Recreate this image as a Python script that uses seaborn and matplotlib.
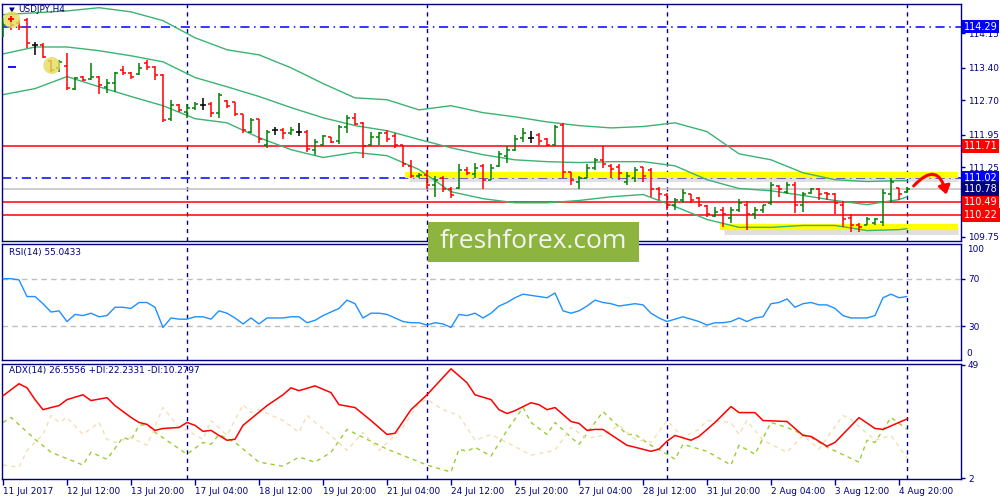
import numpy as np
import pandas as pd
import matplotlib.pyplot as plt
from matplotlib.patches import Rectangle, FancyArrowPatch
import seaborn as sns

# USDJPY H4 bars, 11 Jul 2017 04:00 .. 4 Aug 20:00
opens = [114.22, 114.44, 114.37, 114.44, 113.90, 113.90, 113.55, 113.40, 113.44, 112.95,
         113.21, 113.16, 113.21, 112.99, 113.08, 113.36, 113.29, 113.27, 113.51, 113.42,
         113.25, 112.30, 112.60, 112.45, 112.54, 112.60, 112.62, 112.43, 112.69, 112.65,
         112.41, 112.02, 112.30, 111.74, 112.06, 112.06, 112.00, 112.02, 112.02, 111.63,
         111.72, 111.91, 111.82, 112.13, 112.32, 112.21, 111.72, 111.91, 112.00, 111.93,
         111.72, 111.28, 111.05, 111.09, 110.87, 111.02, 110.77, 110.81, 111.20, 111.11,
         111.28, 110.98, 111.28, 111.50, 111.63, 111.89, 111.89, 111.95, 111.85, 111.74,
         112.17, 111.15, 110.94, 111.02, 111.24, 111.41, 111.28, 111.26, 110.94, 111.02,
         111.26, 111.20, 110.77, 110.64, 110.44, 110.55, 110.66, 110.59, 110.42, 110.20,
         110.33, 110.16, 110.33, 110.44, 110.23, 110.33, 110.48, 110.85, 110.72, 110.87,
         110.44, 110.70, 110.77, 110.70, 110.66, 110.44, 110.16, 110.01, 110.01, 110.05,
         110.07, 110.66, 110.81, 110.72]
highs = [114.48, 114.48, 114.44, 114.48, 113.96, 113.94, 113.57, 113.57, 113.73, 113.21,
         113.23, 113.51, 113.23, 113.16, 113.31, 113.44, 113.31, 113.51, 113.57, 113.44,
         113.27, 112.71, 112.62, 112.62, 112.67, 112.75, 112.65, 112.86, 112.71, 112.65,
         112.41, 112.32, 112.30, 112.06, 112.13, 112.10, 112.13, 112.21, 112.06, 111.85,
         111.95, 111.91, 112.17, 112.39, 112.43, 112.23, 112.02, 112.02, 112.06, 111.98,
         111.74, 111.41, 111.13, 111.20, 111.05, 111.05, 110.83, 111.31, 111.26, 111.35,
         111.31, 111.31, 111.59, 111.70, 111.95, 112.10, 112.04, 112.00, 111.89, 112.17,
         112.21, 111.15, 111.05, 111.31, 111.46, 111.70, 111.31, 111.31, 111.15, 111.26,
         111.26, 111.24, 110.83, 110.70, 110.59, 110.77, 110.66, 110.61, 110.44, 110.40,
         110.40, 110.38, 110.57, 110.51, 110.38, 110.44, 110.92, 110.87, 110.94, 110.92,
         110.72, 110.81, 110.81, 110.72, 110.70, 110.51, 110.23, 110.05, 110.18, 110.16,
         110.77, 111.02, 110.81, 110.83]
lows = [114.07, 114.22, 114.22, 113.83, 113.68, 113.62, 113.31, 113.31, 112.93, 112.93,
        113.12, 113.14, 112.84, 112.86, 112.88, 113.25, 113.16, 113.25, 113.36, 113.14,
        112.23, 112.26, 112.45, 112.32, 112.49, 112.49, 112.34, 112.32, 112.54, 112.36,
        111.98, 112.00, 111.78, 111.67, 111.95, 111.85, 111.95, 111.93, 111.57, 111.52,
        111.70, 111.78, 111.76, 112.00, 112.17, 111.46, 111.70, 111.74, 111.80, 111.67,
        111.26, 111.02, 111.02, 110.77, 110.61, 110.72, 110.59, 110.77, 111.09, 111.02,
        110.77, 110.98, 111.26, 111.35, 111.59, 111.80, 111.78, 111.74, 111.70, 111.70,
        111.02, 110.87, 110.77, 111.02, 111.20, 111.24, 111.02, 110.98, 110.87, 110.92,
        110.92, 110.61, 110.55, 110.33, 110.33, 110.48, 110.48, 110.38, 110.18, 110.18,
        109.95, 110.05, 110.29, 109.90, 110.12, 110.27, 110.44, 110.61, 110.66, 110.27,
        110.29, 110.66, 110.55, 110.55, 110.23, 109.95, 109.84, 109.84, 110.01, 110.01,
        109.97, 110.48, 110.55, 110.70]
closes = [114.33, 114.33, 114.29, 113.94, 113.90, 113.64, 113.36, 113.53, 112.97, 113.19,
          113.14, 113.21, 113.03, 113.08, 113.29, 113.29, 113.21, 113.40, 113.42, 113.25,
          112.28, 112.60, 112.49, 112.54, 112.62, 112.60, 112.43, 112.82, 112.58, 112.41,
          112.06, 112.28, 111.85, 112.02, 112.06, 111.98, 112.06, 112.02, 111.65, 111.80,
          111.93, 111.80, 112.13, 112.32, 112.19, 111.70, 111.91, 111.98, 111.87, 111.72,
          111.31, 111.05, 111.09, 110.87, 110.98, 110.77, 110.64, 111.20, 111.13, 111.24,
          110.98, 111.24, 111.54, 111.63, 111.85, 112.00, 111.89, 111.82, 111.74, 112.13,
          111.15, 110.98, 111.02, 111.24, 111.41, 111.31, 111.22, 111.13, 111.05, 111.20,
          111.07, 110.77, 110.66, 110.44, 110.55, 110.70, 110.55, 110.44, 110.23, 110.29,
          110.23, 110.33, 110.48, 110.23, 110.33, 110.44, 110.87, 110.77, 110.87, 110.44,
          110.66, 110.77, 110.66, 110.66, 110.48, 110.12, 110.01, 109.95, 110.12, 110.12,
          110.70, 110.92, 110.66, 110.78]

# Bollinger bands, sampled every 4 bars
band_idx = [0, 4, 8, 12, 16, 20, 24, 28, 32, 36, 40, 44, 48, 52, 56, 60, 64, 68, 72,
            76, 80, 84, 88, 92, 96, 100, 104, 108, 112, 113]
band_upper = [114.55, 114.59, 114.63, 114.70, 114.61, 114.42, 114.05, 113.79, 113.68, 113.40,
              113.06, 112.75, 112.71, 112.49, 112.58, 112.43, 112.34, 112.23, 112.15, 112.10,
              112.13, 112.21, 112.02, 111.54, 111.41, 111.13, 110.98, 110.94, 110.96, 110.96]
band_mid = [113.70, 113.85, 113.85, 113.77, 113.66, 113.53, 113.19, 112.99, 112.78, 112.54,
            112.32, 112.15, 112.04, 111.85, 111.67, 111.52, 111.41, 111.37, 111.35, 111.37,
            111.37, 111.28, 110.98, 110.79, 110.74, 110.64, 110.53, 110.44, 110.55, 110.61]
band_lower = [112.82, 112.95, 113.21, 112.99, 112.78, 112.58, 112.30, 112.21, 111.89, 111.63,
              111.46, 111.57, 111.50, 111.20, 110.72, 110.57, 110.48, 110.48, 110.53, 110.61,
              110.66, 110.40, 110.12, 109.95, 109.95, 109.99, 109.99, 109.88, 109.90, 109.92]

rsi = [70, 70, 69, 55, 55, 49, 42, 43, 34, 40, 39, 41, 38, 39, 46, 46, 45, 50, 50, 46,
       29, 37, 36, 36, 38, 38, 36, 43, 41, 37, 32, 37, 32, 37, 37, 37, 38, 38, 33, 35,
       39, 42, 45, 52, 49, 37, 41, 41, 40, 37, 34, 33, 33, 31, 33, 32, 29, 40, 39, 41,
       37, 41, 47, 50, 54, 57, 56, 55, 54, 58, 43, 41, 43, 47, 52, 50, 49, 47, 48, 49,
       48, 41, 37, 34, 36, 38, 36, 34, 31, 33, 33, 34, 37, 34, 37, 38, 49, 50, 53, 46,
       49, 50, 48, 48, 45, 39, 37, 37, 37, 39, 54, 57, 54, 55.04]

adx_idx = [0, 2, 3, 4, 5, 6, 7, 8, 10, 11, 13, 14, 16, 17, 18, 19, 20, 22, 23, 24, 25, 26,
           27, 28, 29, 30, 33, 35, 36, 37, 39, 41, 42, 44, 46, 48, 49, 51, 53, 56, 57, 58,
           59, 61, 62, 63, 64, 66, 67, 68, 69, 71, 72, 73, 74, 75, 78, 79, 81, 82, 83, 84,
           86, 87, 89, 91, 92, 94, 95, 98, 100, 101, 103, 104, 107, 109, 110, 113]
adx_val = [36.2, 41.2, 39.5, 34.6, 30.4, 31.3, 32.1, 34.6, 36.6, 34.2, 35.4, 32.1, 27.2, 25.1,
           24.3, 21.8, 22.6, 23.0, 25.1, 23.9, 21.4, 21.8, 19.7, 17.7, 18.1, 23.9, 32.1, 36.6,
           39.5, 38.3, 40.3, 37.5, 32.5, 31.3, 25.9, 20.1, 20.6, 30.4, 36.6, 47.4, 44.5, 41.6,
           36.6, 34.6, 30.4, 28.8, 30.0, 33.3, 32.5, 30.4, 31.3, 25.5, 24.7, 21.8, 22.2, 22.2,
           15.6, 14.8, 13.1, 14.0, 17.3, 19.7, 17.7, 19.3, 25.1, 31.7, 29.2, 29.2, 25.9, 25.5,
           19.7, 19.3, 15.2, 16.8, 27.1, 22.6, 22.2, 26.56]
pdi_idx = [0, 1, 4, 6, 10, 11, 13, 15, 16, 17, 18, 19, 23, 25, 26, 27, 29, 32, 35, 37, 39,
           41, 43, 45, 48, 53, 56, 57, 58, 59, 61, 63, 65, 66, 68, 69, 71, 72, 75, 78, 79,
           81, 83, 84, 85, 88, 91, 92, 94, 96, 98, 100, 101, 103, 107, 108, 109, 111, 113]
pdi_val = [25.1, 27.2, 18.1, 12.7, 7.4, 12.7, 9.8, 18.9, 17.7, 23.9, 24.3, 21.0, 11.9, 16.8,
           16.0, 20.1, 16.8, 8.6, 6.9, 10.7, 8.6, 12.7, 22.2, 18.9, 14.0, 7.4, 4.5, 14.0, 13.1,
           14.8, 11.1, 21.8, 31.3, 25.1, 20.1, 25.1, 18.9, 16.0, 29.6, 20.1, 20.1, 15.6, 11.9,
           9.8, 16.0, 13.1, 7.4, 15.6, 11.9, 25.1, 23.0, 20.1, 18.9, 14.8, 8.6, 17.7, 16.8,
           27.2, 22.23]
mdi_idx = [0, 2, 3, 5, 6, 7, 8, 10, 12, 13, 14, 16, 18, 20, 22, 23, 25, 26, 28, 30, 31, 32,
           35, 37, 38, 41, 43, 45, 47, 50, 52, 53, 55, 57, 59, 61, 63, 66, 69, 71, 73, 75,
           77, 79, 81, 83, 85, 87, 88, 91, 92, 93, 95, 98, 100, 102, 105, 106, 109, 111, 113]
mdi_val = [7.4, 6.5, 13.5, 20.1, 28.0, 25.1, 27.2, 20.1, 25.1, 18.1, 16.8, 18.9, 15.6, 31.3,
           23.0, 21.8, 18.1, 25.9, 19.7, 32.5, 29.2, 30.4, 25.9, 21.0, 28.0, 19.7, 13.5, 21.0,
           13.5, 23.0, 33.3, 34.6, 30.4, 28.0, 17.7, 20.1, 16.8, 11.5, 13.5, 23.0, 18.5, 19.7,
           23.9, 18.1, 16.8, 25.9, 18.9, 22.2, 25.9, 25.1, 20.1, 25.9, 17.7, 12.7, 19.7, 14.0,
           28.0, 26.3, 17.7, 19.7, 10.28]

date_labels = ["11 Jul 2017", "12 Jul 12:00", "13 Jul 20:00", "17 Jul 04:00", "18 Jul 12:00",
               "19 Jul 20:00", "21 Jul 04:00", "24 Jul 12:00", "25 Jul 20:00", "27 Jul 04:00",
               "28 Jul 12:00", "31 Jul 20:00", "2 Aug 04:00", "3 Aug 12:00", "4 Aug 20:00"]
week_starts = [23, 53, 83, 113]
price_ticks = [114.15, 113.40, 112.70, 111.95, 111.25, 109.75]
# (price, line colour, line style)
levels = [(114.29, "#0000FF", (0, (6, 3, 1, 3))), (111.71, "#FF0000", "-"),
          (111.02, "#0000FF", (0, (6, 3, 1, 3))), (110.78, "#C0C0C0", "-"),
          (110.49, "#FF0000", "-"), (110.22, "#FF0000", "-")]
level_boxes = [(114.29, "#0000FF"), (111.71, "#FF0000"), (111.02, "#0000FF"),
               (110.78, "#000080"), (110.49, "#FF0000"), (110.22, "#FF0000")]

NAVY = "#000080"
FS = 6.4


def style_axes(ax):
    ax.set_xlim(-0.125, 119.75)
    ax.set_xlabel("")
    ax.set_ylabel("")
    for sp in ax.spines.values():
        sp.set_color(NAVY)
        sp.set_linewidth(1.0)
    ax.yaxis.tick_right()
    ax.tick_params(axis="y", colors=NAVY, labelcolor=NAVY, labelsize=FS, length=3,
                   width=1, direction="out", pad=2)
    for w in week_starts:
        ax.axvline(w, color=NAVY, lw=1, ls=(0, (3, 3)), zorder=1)


def main():
    sns.set_theme(style="white")
    plt.rcParams["font.family"] = ["DejaVu Sans"]

    fig = plt.figure(figsize=(10, 5), dpi=100, facecolor="white")
    ax_main = fig.add_axes([0.002, 0.519, 0.959, 0.473])
    ax_rsi = fig.add_axes([0.002, 0.28, 0.959, 0.232])
    ax_adx = fig.add_axes([0.002, 0.042, 0.959, 0.230])

    # --- price panel ---
    idx = np.arange(len(closes))
    o = np.array(opens)
    c = np.array(closes)
    cols = np.where(c > o, "#008000", np.where(c < o, "#FF0000", "#000000"))

    bands = pd.DataFrame({"bar": band_idx, "upper": band_upper,
                          "middle": band_mid, "lower": band_lower})
    for name in ["upper", "middle", "lower"]:
        sns.lineplot(data=bands, x="bar", y=name, ax=ax_main, color="#3CB371",
                     lw=1, errorbar=None, zorder=2)

    for price, col, ls in levels:
        ax_main.axhline(price, color=col, lw=1.1, ls=ls, zorder=1.5)

    # highlighted zones with a soft shadow
    for y0, x0 in [(111.08, 50.3), (109.95, 89.6)]:
        ax_main.hlines(y0 - 0.07, x0 + 0.5, 119.4, color="#808080", lw=5, alpha=0.25, zorder=1.6)
        ax_main.hlines(y0, x0, 119.4, color="#FFFF00", lw=4.5, zorder=1.7)

    ax_main.vlines(idx, lows, highs, colors=cols, lw=1.1, zorder=3)
    ax_main.hlines(opens, idx - 0.42, idx, colors=cols, lw=1.1, zorder=3)
    ax_main.hlines(closes, idx, idx + 0.42, colors=cols, lw=1.1, zorder=3)

    # trade markers
    ax_main.scatter([1.1, 6.1], [114.44, 113.45], s=150, color="#E3DC5A", alpha=0.8,
                    edgecolors="none", zorder=4)
    ax_main.scatter([1.0], [114.46], s=25, marker="+", color="#FF0000", lw=1.3, zorder=5)
    ax_main.scatter([1.1], [113.42], s=30, marker="_", color="#0000FF", lw=1.3, zorder=5)

    arrow = FancyArrowPatch((113.6, 110.80), (118.0, 110.60), connectionstyle="arc3,rad=-1.0",
                            arrowstyle="-|>,head_length=5,head_width=3.5", color="#FF0000",
                            lw=2.2, zorder=6, clip_on=False)
    ax_main.add_patch(arrow)

    style_axes(ax_main)
    ax_main.set_ylim(109.665, 114.78)
    ax_main.set_yticks(price_ticks)
    ax_main.set_yticklabels([f"{p:.2f}" for p in price_ticks])
    ax_main.set_xticks([])
    trans = ax_main.get_yaxis_transform()
    for price, col in level_boxes:
        ax_main.text(1.003, price, f"{price:.2f}", transform=trans, ha="left", va="center",
                     fontsize=FS + 0.6, color="white", zorder=10, clip_on=False,
                     bbox=dict(boxstyle="square,pad=0.18", fc=col, ec="none"))
    ax_main.text(0.007, 0.975, "\u25bc", transform=ax_main.transAxes, fontsize=FS - 1,
                 color=NAVY, va="center")
    ax_main.text(0.017, 0.975, "USDJPY,H4", transform=ax_main.transAxes, fontsize=FS,
                 color=NAVY, va="center")

    # --- RSI panel ---
    rsi_df = pd.DataFrame({"bar": idx, "rsi": rsi})
    sns.lineplot(data=rsi_df, x="bar", y="rsi", ax=ax_rsi, color="#1E90FF", lw=1,
                 errorbar=None, zorder=3)
    for lvl in [70, 30]:
        ax_rsi.axhline(lvl, color="#BEBEBE", lw=1, ls=(0, (4, 3)), zorder=1)
    style_axes(ax_rsi)
    ax_rsi.set_ylim(1.67, 99.17)
    ax_rsi.set_yticks([70, 30])
    ax_rsi.set_xticks([])
    for frac, lab in [(0.95, "100"), (0.06, "0")]:
        ax_rsi.text(1.006, frac, lab, transform=ax_rsi.transAxes, fontsize=FS,
                    color=NAVY, va="center", ha="left")
    ax_rsi.text(0.007, 0.93, "RSI(14) 55.0433", transform=ax_rsi.transAxes,
                fontsize=FS, color=NAVY, va="center")

    # --- ADX panel ---
    sns.lineplot(x=pdi_idx, y=pdi_val, ax=ax_adx, color="#9ACD32", lw=1,
                 linestyle=(0, (3, 3)), errorbar=None, zorder=2)
    sns.lineplot(x=mdi_idx, y=mdi_val, ax=ax_adx, color="#F5DEB3", lw=1,
                 linestyle=(0, (3, 3)), errorbar=None, zorder=2)
    sns.lineplot(x=adx_idx, y=adx_val, ax=ax_adx, color="#FF0000", lw=1.1,
                 errorbar=None, zorder=3)
    style_axes(ax_adx)
    ax_adx.set_ylim(1.59, 49.4)
    ax_adx.set_yticks([49, 2])
    ax_adx.set_xticks(np.arange(0, 113, 8))
    ax_adx.set_xticklabels(date_labels, ha="left")
    ax_adx.tick_params(axis="x", colors=NAVY, labelcolor=NAVY, labelsize=FS, length=4,
                       width=1, direction="out", pad=2, bottom=True)
    ax_adx.text(0.007, 0.94, "ADX(14) 26.5556 +DI:22.2331 -DI:10.2797",
                transform=ax_adx.transAxes, fontsize=FS, color=NAVY, va="center")

    # watermark
    fig.add_artist(Rectangle((0.428, 1 - 262 / 500), 0.211, 40 / 500,
                             transform=fig.transFigure, fc="#8DB43F", ec="none", zorder=20))
    fig.text(0.5335, 1 - 242 / 500, "freshforex.com", ha="center", va="center",
             color="#F4F4F4", fontsize=19, family=["Open Sans", "DejaVu Sans"], zorder=21)

    fig.savefig("out.png", dpi=100, facecolor="white")


if __name__ == "__main__":
    main()
